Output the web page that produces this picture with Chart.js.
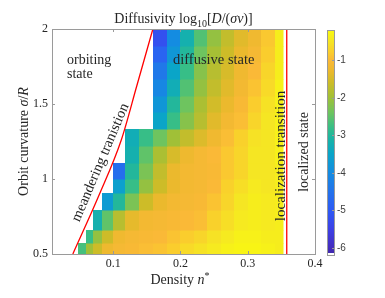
<!DOCTYPE html>
<html>
<head>
<meta charset="utf-8">
<script src="https://cdn.jsdelivr.net/npm/chart.js@4.4.0/dist/chart.umd.min.js"></script>
<style>
  html, body { margin: 0; padding: 0; background: #fff; }
  canvas { display: block; }
</style>
</head>
<body>
<canvas id="Graph" width="385" height="298"></canvas>
<script>
// data
const densityEdges = [0.048, 0.06, 0.07, 0.083, 0.1, 0.118, 0.138, 0.159, 0.18, 0.2, 0.22, 0.24, 0.26, 0.28, 0.30, 0.32, 0.34, 0.352];
const curvatureEdges = [0.5, 0.573, 0.66, 0.793, 0.907, 1.0, 1.107, 1.22, 1.333, 1.444, 1.556, 1.667, 1.778, 1.889, 2.0];
const N = null;
// log10 diffusivity, one row per curvature band (bottom to top), one value per density band
const logD = [
  [-2.7, -2.0, -1.6, -1.25, -1.1, -1.05, -0.95, -0.9, -0.8, -0.65, -0.55, -0.45, -0.35, -0.3, -0.3, -0.35, -0.4],
  [N, -2.8, -2.1, -1.6, -1.2, -1.1, -1.05, -1.0, -0.9, -0.8, -0.7, -0.55, -0.45, -0.35, -0.35, -0.4, -0.4],
  [N, N, -3.2, -2.5, -1.8, -1.35, -1.15, -1.1, -1.05, -1.0, -0.95, -0.75, -0.6, -0.45, -0.4, -0.45, -0.4],
  [N, N, N, -3.7, -3.0, -2.3, -1.6, -1.3, -1.15, -1.1, -1.05, -0.9, -0.7, -0.5, -0.4, -0.45, -0.4],
  [N, N, N, N, -3.6, -2.8, -2.1, -1.6, -1.3, -1.15, -1.1, -1.0, -0.75, -0.6, -0.45, -0.5, -0.4],
  [N, N, N, N, -4.6, -3.0, -2.3, -1.7, -1.3, -1.15, -1.1, -1.05, -0.85, -0.7, -0.5, -0.5, -0.4],
  [N, N, N, N, N, -3.2, -2.5, -1.9, -1.5, -1.25, -1.1, -1.0, -0.85, -0.7, -0.5, -0.5, -0.35],
  [N, N, N, N, N, -3.3, -2.8, -2.4, -2.0, -1.7, -1.45, -1.2, -0.95, -0.75, -0.55, -0.5, -0.35],
  [N, N, N, N, N, N, N, -3.5, -2.8, -2.2, -1.8, -1.4, -1.15, -0.95, -0.7, -0.5, -0.35],
  [N, N, N, N, N, N, N, -3.8, -3.0, -2.4, -1.9, -1.55, -1.3, -1.05, -0.8, -0.55, -0.35],
  [N, N, N, N, N, N, N, -4.1, -3.3, -2.6, -2.1, -1.7, -1.4, -1.15, -0.9, -0.65, -0.35],
  [N, N, N, N, N, N, N, -4.4, -3.5, -2.8, -2.2, -1.8, -1.5, -1.2, -1.0, -0.7, -0.4],
  [N, N, N, N, N, N, N, -4.8, -3.8, -3.0, -2.4, -1.95, -1.6, -1.3, -1.1, -0.8, -0.4],
  [N, N, N, N, N, N, N, -5.2, -4.0, -3.2, -2.6, -2.1, -1.7, -1.4, -1.2, -0.85, -0.4]
];
const meanderDensity = [0.040, 0.079, 0.112, 0.135, 0.159];
const meanderCurvature = [0.5, 0.893, 1.26, 1.62, 2.0];
const localizationDensity = [0.358, 0.358];
const localizationCurvature = [0.5, 2.0];
const xTicks = [0.1, 0.2, 0.3, 0.4];
const yTicks = [0.5, 1, 1.5, 2];
const cbTicks = [-1, -2, -3, -4, -5, -6];
const cbMin = -6.2, cbMax = -0.2;

// parula-like colour stops (value -> rgb)
const cmap = [
  [-6.2, [62, 38, 168]], [-6.0, [68, 45, 190]], [-5.5, [60, 65, 230]], [-5.0, [45, 90, 245]],
  [-4.5, [35, 115, 235]], [-4.0, [20, 140, 225]], [-3.5, [10, 165, 200]], [-3.1, [25, 180, 165]],
  [-2.8, [55, 190, 135]], [-2.4, [110, 196, 95]], [-2.0, [160, 192, 55]], [-1.6, [205, 188, 40]],
  [-1.3, [235, 185, 45]], [-1.0, [250, 185, 55]], [-0.8, [250, 205, 45]], [-0.5, [245, 230, 35]],
  [-0.2, [249, 251, 14]]
];
function colorFor(v) {
  if (v <= cmap[0][0]) return 'rgb(' + cmap[0][1].join(',') + ')';
  for (let i = 1; i < cmap.length; i++) {
    if (v <= cmap[i][0]) {
      const [v0, c0] = cmap[i - 1], [v1, c1] = cmap[i];
      const t = (v - v0) / (v1 - v0);
      return 'rgb(' + c0.map((c, k) => Math.round(c + (c1[k] - c) * t)).join(',') + ')';
    }
  }
  return 'rgb(' + cmap[cmap.length - 1][1].join(',') + ')';
}

const serif = "'Liberation Serif', 'Times New Roman', serif";
const boxColor = '#9a9a9a';
const textColor = '#262626';

function drawRuns(ctx, runs, x, y, align) {
  let w = 0;
  runs.forEach(r => { ctx.font = r.font; w += ctx.measureText(r.t).width; });
  let cx = align === 'center' ? x - w / 2 : x;
  runs.forEach(r => {
    ctx.font = r.font;
    ctx.fillText(r.t, cx, y + (r.dy || 0));
    cx += ctx.measureText(r.t).width;
  });
}

// heatmap cells drawn through the chart scales
const heatmapPlugin = {
  id: 'heatmap',
  beforeDatasetsDraw(chart) {
    const { ctx, chartArea, scales: { x, y } } = chart;
    ctx.save();
    ctx.beginPath();
    ctx.rect(chartArea.left, chartArea.top, chartArea.right - chartArea.left, chartArea.bottom - chartArea.top);
    ctx.clip();
    logD.forEach((row, i) => {
      row.forEach((v, j) => {
        if (v === null) return;
        const x0 = x.getPixelForValue(densityEdges[j]);
        const x1 = x.getPixelForValue(densityEdges[j + 1]);
        const y0 = y.getPixelForValue(curvatureEdges[i + 1]);
        const y1 = y.getPixelForValue(curvatureEdges[i]);
        ctx.fillStyle = colorFor(v);
        ctx.fillRect(Math.round(x0), Math.round(y0), Math.round(x1) - Math.round(x0) + 0.5, Math.round(y1) - Math.round(y0) + 0.5);
      });
    });
    ctx.restore();
  }
};

// box, inward ticks, colorbar and all the texts
const decorPlugin = {
  id: 'decor',
  afterDraw(chart) {
    const { ctx, chartArea: a, scales: { x, y } } = chart;
    ctx.save();
    ctx.strokeStyle = boxColor;
    ctx.lineWidth = 1;
    ctx.strokeRect(a.left + 0.5, a.top + 0.5, a.right - a.left, a.bottom - a.top);
    ctx.beginPath();
    xTicks.forEach(t => {
      const px = Math.round(x.getPixelForValue(t)) + 0.5;
      ctx.moveTo(px, a.bottom); ctx.lineTo(px, a.bottom - 3);
      ctx.moveTo(px, a.top); ctx.lineTo(px, a.top + 3);
    });
    yTicks.forEach(t => {
      const py = Math.round(y.getPixelForValue(t)) + 0.5;
      ctx.moveTo(a.left, py); ctx.lineTo(a.left + 3, py);
      ctx.moveTo(a.right, py); ctx.lineTo(a.right - 3, py);
    });
    ctx.stroke();

    // colorbar
    const cbL = a.right + 12, cbW = 7, cbT = a.top + 1, cbB = a.bottom + 1;
    const cbPix = v => cbT + (cbMax - v) / (cbMax - cbMin) * (cbB - cbT);
    for (let py = cbT; py < cbB; py++) {
      const v = cbMax - (py + 0.5 - cbT) / (cbB - cbT) * (cbMax - cbMin);
      ctx.fillStyle = colorFor(v);
      ctx.fillRect(cbL, py, cbW, 1);
    }
    ctx.fillStyle = '#fff';
    ctx.fillRect(cbL, cbB - 2, cbW, 2);
    ctx.strokeStyle = boxColor;
    ctx.strokeRect(cbL + 0.5, cbT + 0.5, cbW, cbB - cbT);
    ctx.fillStyle = '#404040';
    ctx.font = "10px 'Liberation Sans', Arial, sans-serif";
    ctx.textAlign = 'left';
    ctx.textBaseline = 'middle';
    ctx.beginPath();
    cbTicks.forEach(t => {
      const py = Math.round(cbPix(t)) + 0.5;
      ctx.moveTo(cbL + cbW, py); ctx.lineTo(cbL + cbW - 2, py);
      ctx.fillText('-' + Math.abs(t), cbL + cbW + 3, py);
    });
    ctx.stroke();

    // titles
    ctx.fillStyle = textColor;
    ctx.textAlign = 'left';
    ctx.textBaseline = 'alphabetic';
    const f = s => s + 'px ' + serif;
    const fi = s => 'italic ' + s + 'px ' + serif;
    drawRuns(ctx, [
      { t: 'Diffusivity log', font: f(14) },
      { t: '10', font: f(10), dy: 4 },
      { t: '[', font: f(14) },
      { t: 'D', font: fi(14) },
      { t: '/(', font: f(14) },
      { t: 'σv', font: fi(14) },
      { t: ')]', font: f(14) }
    ], (a.left + a.right) / 2, 23, 'center');
    drawRuns(ctx, [
      { t: 'Density ', font: f(14) },
      { t: 'n', font: fi(14) },
      { t: '*', font: f(10), dy: -5 }
    ], 180, 284, 'center');
    ctx.save();
    ctx.translate(28, (a.top + a.bottom) / 2);
    ctx.rotate(-Math.PI / 2);
    drawRuns(ctx, [
      { t: 'Orbit curvature ', font: f(14) },
      { t: 'σ', font: fi(14) },
      { t: '/', font: f(14) },
      { t: 'R', font: fi(14) }
    ], 0, 0, 'center');
    ctx.restore();

    // region labels
    ctx.font = f(14);
    ctx.fillText('orbiting', 67, 64);
    ctx.fillText('state', 67, 78);
    ctx.font = f(14.5);
    ctx.fillText('diffusive state', 173, 64);
    ctx.textAlign = 'center';
    ctx.save();
    ctx.translate(104, 164);
    ctx.rotate(-67 * Math.PI / 180);
    ctx.fillText('meandering tranistion', 0, 0);
    ctx.restore();
    ctx.font = f(15);
    ctx.save();
    ctx.translate(285, 156);
    ctx.rotate(-Math.PI / 2);
    ctx.fillText('localization transition', 0, 0);
    ctx.restore();
    ctx.font = f(14);
    ctx.save();
    ctx.translate(308, 152);
    ctx.rotate(-Math.PI / 2);
    ctx.fillText('localized state', 0, 0);
    ctx.restore();
    ctx.restore();
  }
};

const ctx = document.getElementById('Graph').getContext('2d');
const chart = new Chart(ctx, {
  type: 'scatter',
  data: {
    datasets: [
      {
        label: 'meandering transition',
        data: meanderDensity.map((d, i) => ({ x: d, y: meanderCurvature[i] })),
        showLine: true,
        borderColor: '#ff0000',
        borderWidth: 1.3,
        pointRadius: 0,
        cubicInterpolationMode: 'monotone'
      },
      {
        label: 'localization transition',
        data: localizationDensity.map((d, i) => ({ x: d, y: localizationCurvature[i] })),
        showLine: true,
        borderColor: '#ff0000',
        borderWidth: 1.3,
        pointRadius: 0
      }
    ]
  },
  options: {
    responsive: false,
    animation: false,
    devicePixelRatio: 1,
    layout: { padding: { top: 29, right: 70, left: 0, bottom: 0 } },
    plugins: { legend: { display: false }, tooltip: { enabled: false }, title: { display: false } },
    scales: {
      x: {
        type: 'linear',
        min: 0.009,
        max: 0.4,
        afterBuildTicks: s => { s.ticks = xTicks.map(v => ({ value: v })); },
        afterFit: s => { s.height = 44; },
        grid: { display: false, drawTicks: false },
        border: { display: false },
        ticks: { font: { family: serif, size: 12 }, color: textColor, padding: 3, maxRotation: 0 }
      },
      y: {
        type: 'linear',
        min: 0.5,
        max: 2,
        afterBuildTicks: s => { s.ticks = yTicks.map(v => ({ value: v })); },
        afterFit: s => { s.width = 52; },
        grid: { display: false, drawTicks: false },
        border: { display: false },
        ticks: { font: { family: serif, size: 12 }, color: textColor, padding: 4, callback: v => String(v) }
      }
    }
  },
  plugins: [heatmapPlugin, decorPlugin]
});
</script>
</body>
</html>
